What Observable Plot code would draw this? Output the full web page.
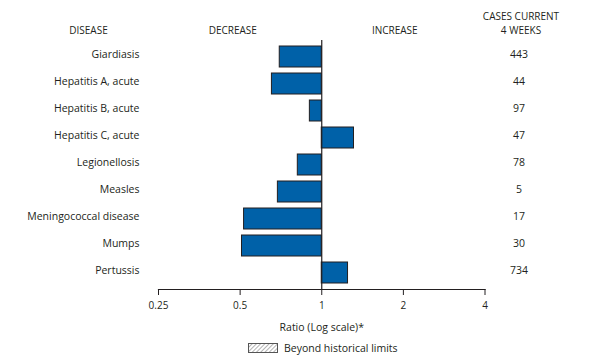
<!DOCTYPE html>
<html>
<head>
<meta charset="utf-8">
<script src="https://cdn.jsdelivr.net/npm/d3@7"></script>
<script src="https://cdn.jsdelivr.net/npm/@observablehq/plot@0.6"></script>
<style>
  body { margin: 0; background: #fff; font-family: "Open Sans", sans-serif; color: #231f20; }
  #wrap { position: relative; width: 590px; height: 360px; }
  #legend { position: absolute; left: 248px; top: 342px; display: flex; align-items: center; font-size: 10.5px; height: 12px; }
  #legend span { margin-left: 6px; }
</style>
</head>
<body>
<div id="wrap">
  <div id="chart"></div>
  <div id="legend">
    <svg width="30" height="10">
      <defs>
        <pattern id="hatch" width="3" height="3" patternUnits="userSpaceOnUse" patternTransform="rotate(45)">
          <line x1="0" y1="0" x2="0" y2="3" stroke="#808080" stroke-width="1.2"></line>
        </pattern>
      </defs>
      <rect x="0.5" y="0.5" width="29" height="9" fill="url(#hatch)" stroke="#555" stroke-width="1"></rect>
    </svg>
    <span>Beyond historical limits</span>
  </div>
</div>
<script>
const diseases = ["Giardiasis", "Hepatitis A, acute", "Hepatitis B, acute", "Hepatitis C, acute", "Legionellosis", "Measles", "Meningococcal disease", "Mumps", "Pertussis"];
const ratios = [0.70, 0.655, 0.904, 1.315, 0.816, 0.689, 0.517, 0.508, 1.25];
const cases = [443, 44, 97, 47, 78, 5, 17, 30, 734];
const xTicks = [0.25, 0.5, 1, 2, 4];
const xTickLabels = ["0.25", "0.5", "1", "2", "4"];

const data = diseases.map((d, i) => ({disease: d, ratio: ratios[i], cases: cases[i]}));
const ink = "#231f20";

const chart = Plot.plot({
  width: 590,
  height: 340,
  marginLeft: 158,
  marginRight: 105.5,
  marginTop: 40,
  marginBottom: 51,
  style: {fontFamily: "Open Sans, sans-serif", fontSize: "10px", color: ink, background: "#fff"},
  x: {type: "log", base: 2, domain: [0.25, 4]},
  y: {domain: diseases, padding: 0.22},
  marks: [
    Plot.barX(data, {x1: 1, x2: "ratio", y: "disease", fill: "#0061a8", stroke: ink, strokeWidth: 1}),
    Plot.ruleX([1], {stroke: ink, strokeWidth: 1.2}),
    Plot.frame({anchor: "bottom", stroke: ink, strokeWidth: 1.2}),
    Plot.axisX({ticks: xTicks, tickFormat: d => xTickLabels[xTicks.indexOf(d)], tickSize: 6, tickPadding: 6, label: null, fontSize: 10}),
    Plot.axisY({tickSize: 0, tickPadding: 19, label: null, dy: -2.5, fontSize: 10.5}),
    Plot.text(data, {y: "disease", text: d => String(d.cases), frameAnchor: "right", dx: 34, textAnchor: "middle", dy: -2.5, fontSize: 10.5, fill: ink}),
    Plot.text(["DISEASE"], {frameAnchor: "top-left", dx: -70, dy: -7, lineAnchor: "bottom", textAnchor: "middle", fontSize: 10, fill: ink}),
    Plot.text(["DECREASE"], {frameAnchor: "top", dx: -89, dy: -7, lineAnchor: "bottom", textAnchor: "middle", fontSize: 10, fill: ink}),
    Plot.text(["INCREASE"], {frameAnchor: "top", dx: 73, dy: -7, lineAnchor: "bottom", textAnchor: "middle", fontSize: 10, fill: ink}),
    Plot.text(["CASES CURRENT\n4 WEEKS"], {frameAnchor: "top-right", dx: 36, dy: -7, lineAnchor: "bottom", textAnchor: "middle", lineHeight: 1.4, fontSize: 10, fill: ink}),
    Plot.text(["Ratio (Log scale)*"], {frameAnchor: "bottom", dy: 41, lineAnchor: "bottom", textAnchor: "middle", fontSize: 10.5, fill: ink})
  ]
});
document.getElementById("chart").appendChild(chart);
</script>
</body>
</html>
